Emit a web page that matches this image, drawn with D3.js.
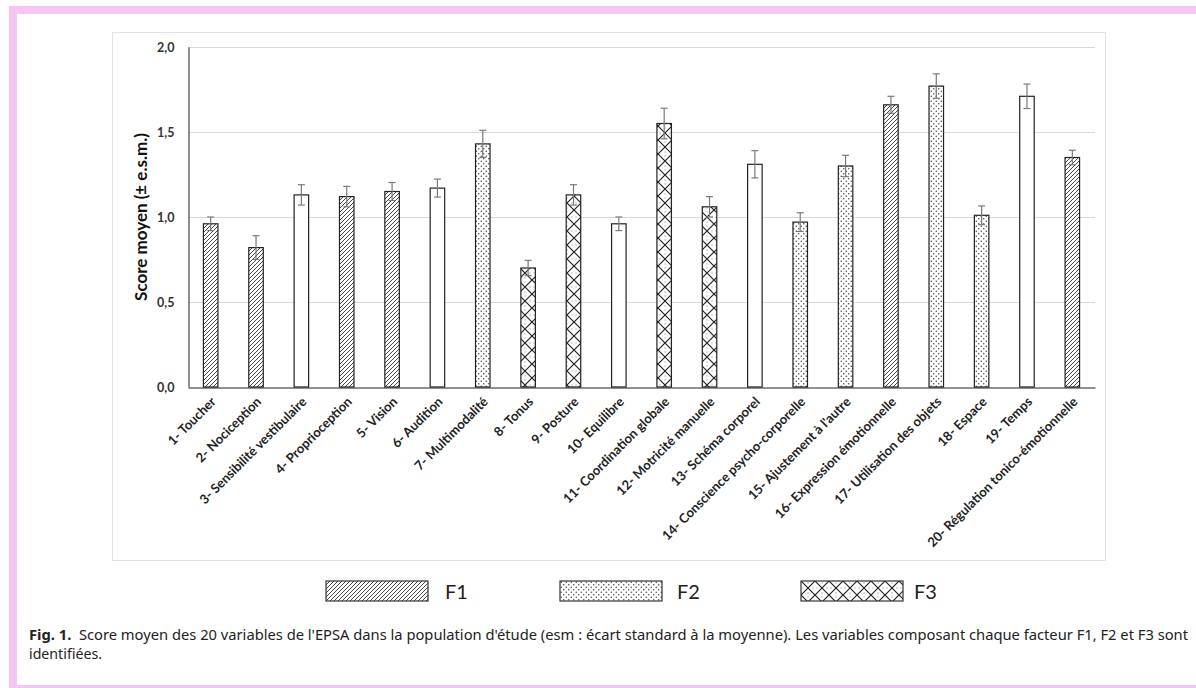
<!DOCTYPE html>
<html>
<head>
<meta charset="utf-8">
<script src="https://cdn.jsdelivr.net/npm/d3@7"></script>
<style>
  html, body { margin: 0; padding: 0; background: #fff; }
  svg { display: block; }
</style>
</head>
<body>
<div id="chart"></div>
<script>
// Data
var categories = ["1- Toucher", "2- Nociception", "3- Sensibilité vestibulaire", "4- Proprioception",
    "5- Vision", "6- Audition", "7- Multimodalité", "8- Tonus", "9- Posture", "10- Equilibre",
    "11- Coordination globale", "12- Motricité manuelle", "13- Schéma corporel",
    "14- Conscience psycho-corporelle", "15- Ajustement à l'autre", "16- Expression émotionnelle",
    "17- Utilisation des objets", "18- Espace", "19- Temps", "20- Régulation tonico-émotionnelle"];
var means = [0.96, 0.82, 1.13, 1.12, 1.15, 1.17, 1.43, 0.70, 1.13, 0.96,
             1.55, 1.06, 1.31, 0.97, 1.30, 1.66, 1.77, 1.01, 1.71, 1.35];
var sems = [0.04, 0.07, 0.06, 0.06, 0.053, 0.053, 0.08, 0.045, 0.06, 0.04,
            0.09, 0.06, 0.08, 0.055, 0.063, 0.05, 0.072, 0.055, 0.072, 0.043];
var factors = ["F1", "F1", "", "F1", "F1", "", "F2", "F3", "F3", "",
               "F3", "F3", "", "F2", "F2", "F1", "F2", "F2", "", "F1"];
var legendItems = ["F1", "F2", "F3"];
var yTicks = [0, 0.5, 1.0, 1.5, 2.0];

var W = 1196, H = 688;
var plot = {left: 188, right: 1095, top: 47, bottom: 387};

var svg = d3.select("#chart").append("svg")
    .attr("width", W)
    .attr("height", H);

// Patterns
var defs = svg.append("defs");

var p1 = defs.append("pattern")
    .attr("id", "pat-F1")
    .attr("patternUnits", "userSpaceOnUse")
    .attr("width", 4).attr("height", 4);
p1.append("rect").attr("width", 4).attr("height", 4).attr("fill", "#fff");
p1.append("path")
    .attr("d", "M-1,1 L1,-1 M0,4 L4,0 M3,5 L5,3")
    .attr("stroke", "#333").attr("stroke-width", 0.9);

var p2 = defs.append("pattern")
    .attr("id", "pat-F2")
    .attr("patternUnits", "userSpaceOnUse")
    .attr("width", 5).attr("height", 5);
p2.append("rect").attr("width", 5).attr("height", 5).attr("fill", "#fff");
p2.append("circle").attr("cx", 1.25).attr("cy", 1.25).attr("r", 0.7).attr("fill", "#333");
p2.append("circle").attr("cx", 3.75).attr("cy", 3.75).attr("r", 0.7).attr("fill", "#333");

var p3 = defs.append("pattern")
    .attr("id", "pat-F3")
    .attr("patternUnits", "userSpaceOnUse")
    .attr("width", 14).attr("height", 14);
p3.append("rect").attr("width", 14).attr("height", 14).attr("fill", "#fff");
p3.append("path")
    .attr("d", "M0,0 L14,14 M14,0 L0,14")
    .attr("stroke", "#222").attr("stroke-width", 1.2);
p3.append("path")
    .attr("d", "M7,2 L7,2.01 M7,12 L7,12.01 M2,7 L2,7.01 M12,7 L12,7.01")
    .attr("stroke", "#666").attr("stroke-width", 1).attr("stroke-linecap", "round");

function fillFor(f) { return f ? "url(#pat-" + f + ")" : "#fff"; }

// Pink page frame
svg.append("rect")
    .attr("x", 13).attr("y", 10)
    .attr("width", 1195).attr("height", 679)
    .attr("fill", "none")
    .attr("stroke", "#f7c5f1")
    .attr("stroke-width", 8);

// Chart frame
svg.append("rect")
    .attr("x", 112.5).attr("y", 32.5)
    .attr("width", 993).attr("height", 528)
    .attr("fill", "none")
    .attr("stroke", "#e3e3e3");

// Scales
var x = d3.scaleBand()
    .domain(categories)
    .range([plot.left, plot.right])
    .paddingInner(0.68)
    .paddingOuter(0.34);

var y = d3.scaleLinear()
    .domain([0, 2])
    .range([plot.bottom, plot.top]);

var fmt = function(d) { return d3.format(".1f")(d).replace(".", ","); };

// Gridlines
svg.append("g")
    .selectAll("line")
    .data(yTicks.filter(function(d) { return d > 0; }))
    .enter().append("line")
    .attr("x1", plot.left).attr("x2", plot.right)
    .attr("y1", function(d) { return Math.round(y(d)) + 0.5; })
    .attr("y2", function(d) { return Math.round(y(d)) + 0.5; })
    .attr("stroke", "#d9d9d9");

// Y axis
var yAxis = svg.append("g")
    .attr("transform", "translate(" + (plot.left + 0.5) + ",0)")
    .call(d3.axisLeft(y).tickValues(yTicks).tickFormat(fmt).tickSize(0).tickPadding(14));
yAxis.select(".domain").attr("stroke", "#222");
yAxis.selectAll("text")
    .attr("font-family", "Lato, 'Open Sans', sans-serif")
    .attr("font-weight", "bold")
    .attr("font-size", 12.5)
    .attr("fill", "#333");

svg.append("text")
    .attr("transform", "translate(147," + ((plot.top + plot.bottom) / 2) + ") rotate(-90)")
    .attr("text-anchor", "middle")
    .attr("font-family", "Lato, 'Open Sans', sans-serif")
    .attr("font-weight", "bold")
    .attr("font-size", 17)
    .attr("fill", "#111")
    .text("Score moyen (± e.s.m.)");

// Bars
svg.append("g")
    .selectAll("rect")
    .data(categories)
    .enter().append("rect")
    .attr("x", function(d) { return x(d); })
    .attr("y", function(d, i) { return y(means[i]); })
    .attr("width", x.bandwidth())
    .attr("height", function(d, i) { return y(0) - y(means[i]); })
    .attr("fill", function(d, i) { return fillFor(factors[i]); })
    .attr("stroke", "#222")
    .attr("stroke-width", 1.2);

// Error bars
var eb = svg.append("g")
    .attr("stroke", "#7a7a7a")
    .attr("stroke-width", 1.2)
    .selectAll("g")
    .data(categories)
    .enter().append("g");
eb.append("line")
    .attr("x1", function(d) { return x(d) + x.bandwidth() / 2; })
    .attr("x2", function(d) { return x(d) + x.bandwidth() / 2; })
    .attr("y1", function(d, i) { return y(means[i] - sems[i]); })
    .attr("y2", function(d, i) { return y(means[i] + sems[i]); });
eb.append("line")
    .attr("x1", function(d) { return x(d) + x.bandwidth() / 2 - 3.5; })
    .attr("x2", function(d) { return x(d) + x.bandwidth() / 2 + 3.5; })
    .attr("y1", function(d, i) { return y(means[i] + sems[i]); })
    .attr("y2", function(d, i) { return y(means[i] + sems[i]); });
eb.append("line")
    .attr("x1", function(d) { return x(d) + x.bandwidth() / 2 - 3.5; })
    .attr("x2", function(d) { return x(d) + x.bandwidth() / 2 + 3.5; })
    .attr("y1", function(d, i) { return y(means[i] - sems[i]); })
    .attr("y2", function(d, i) { return y(means[i] - sems[i]); });

// X axis
var xAxis = svg.append("g")
    .attr("transform", "translate(0," + (plot.bottom + 0.5) + ")")
    .call(d3.axisBottom(x).tickSize(0).tickPadding(0));
xAxis.select(".domain").attr("stroke", "#222");
xAxis.selectAll("text")
    .attr("font-family", "Lato, 'Open Sans', sans-serif")
    .attr("font-weight", "bold")
    .attr("font-size", 13)
    .attr("fill", "#222")
    .attr("text-anchor", "end")
    .attr("dy", 0)
    .attr("y", 0)
    .attr("transform", "translate(6,15) rotate(-45)");

// Legend
var legendX = d3.scaleOrdinal().domain(legendItems).range([326, 560, 801]);
var lg = svg.append("g")
    .selectAll("g")
    .data(legendItems)
    .enter().append("g")
    .attr("transform", function(d) { return "translate(" + legendX(d) + ",581)"; });
lg.append("rect")
    .attr("width", 102).attr("height", 20)
    .attr("fill", function(d) { return fillFor(d); })
    .attr("stroke", "#333")
    .attr("stroke-width", 1.2);
lg.append("text")
    .attr("x", function(d) { return d === "F1" ? 119 : (d === "F2" ? 117 : 113); })
    .attr("y", 18)
    .attr("font-family", "Lato, 'Open Sans', sans-serif")
    .attr("font-size", 20)
    .attr("fill", "#222")
    .text(function(d) { return d; });

// Caption
var cap = svg.append("text")
    .attr("x", 29).attr("y", 640)
    .attr("font-family", "'Noto Sans', sans-serif")
    .attr("font-size", 13.5)
    .attr("fill", "#222")
    .attr("textLength", 1159)
    .attr("lengthAdjust", "spacingAndGlyphs");
cap.append("tspan").attr("font-weight", "bold").text("Fig. 1.");
cap.append("tspan").text("\u00a0 Score moyen des 20 variables de l'EPSA dans la population d'étude (esm : écart standard à la moyenne). Les variables composant chaque facteur F1, F2 et F3 sont");
svg.append("text")
    .attr("x", 29).attr("y", 659)
    .attr("font-family", "'Noto Sans', sans-serif")
    .attr("font-size", 13.5)
    .attr("fill", "#222")
    .attr("textLength", 73)
    .attr("lengthAdjust", "spacingAndGlyphs")
    .text("identifiées.");
</script>
</body>
</html>
